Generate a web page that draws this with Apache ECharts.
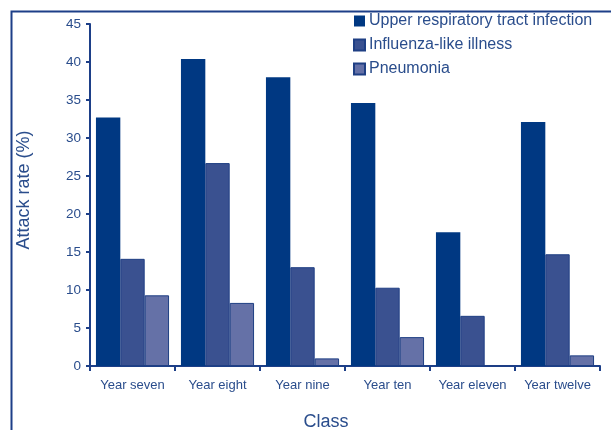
<!DOCTYPE html>
<html><head><meta charset="utf-8">
<script src="https://cdn.jsdelivr.net/npm/echarts@6/dist/echarts.min.js"></script>
<style>html,body{margin:0;padding:0;background:#fff}#c{width:611px;height:430px}</style>
</head><body><div id="c"></div>
<script>
const categories = ['Year seven','Year eight','Year nine','Year ten','Year eleven','Year twelve'];
const seriesNames = ['Upper respiratory tract infection','Influenza-like illness','Pneumonia'];
const urti = [32.7, 40.4, 38.0, 34.6, 17.6, 32.1];
const ili = [14.1, 26.7, 13.0, 10.3, 6.6, 14.7];
const pneumonia = [9.3, 8.3, 1.0, 3.8, 0, 1.4];
const yTicks = {min: 0, max: 45, interval: 5};

const colors = ['#003882', '#3a5190', '#6571a7'];
const textColor = '#2a4d8c';
const axisColor = '#1d3f88';
const font = 'Liberation Sans, Arial, sans-serif';

const chart = echarts.init(document.getElementById('c'), null, {renderer: 'canvas'});
const mk = (name, data, i) => ({
  name, type: 'bar', data,
  barGap: '0%', barCategoryGap: '14%',
  itemStyle: {color: colors[i], borderColor: i === 0 ? colors[0] : '#1f3f84', borderWidth: i === 0 ? 0 : 1},
  emphasis: {disabled: true}
});
chart.setOption({
  animation: false,
  textStyle: {fontFamily: font},
  grid: {left: 90, right: 11, top: 24, bottom: 64, containLabel: false, outerBoundsMode: 'none'},
  legend: {
    orient: 'vertical', left: 353, top: 13, padding: 0, itemWidth: 11, itemHeight: 11, itemGap: 8,
    icon: 'rect',
    textStyle: {color: textColor, fontSize: 16, fontFamily: font, padding: [0, 0, 0, -1]},
    data: seriesNames
  },
  xAxis: {
    type: 'category', data: categories,
    name: 'Class', nameLocation: 'middle', nameGap: 47,
    nameTextStyle: {color: textColor, fontSize: 18, fontFamily: font, padding: [0, 38, 0, 0]},
    axisLine: {lineStyle: {color: axisColor, width: 2}},
    axisTick: {show: true, interval: 0, length: 5, lineStyle: {color: axisColor, width: 2}, alignWithLabel: false},
    axisLabel: {interval: 0, color: textColor, fontSize: 13, fontFamily: font, margin: 13},
    splitLine: {show: false}
  },
  yAxis: {
    type: 'value', min: yTicks.min, max: yTicks.max, interval: yTicks.interval,
    name: 'Attack rate (%)', nameLocation: 'middle', nameGap: 57,
    nameTextStyle: {color: textColor, fontSize: 18, fontFamily: font, padding: [0, 0, 0, 10]},
    axisLine: {show: true, lineStyle: {color: axisColor, width: 2}},
    axisTick: {show: true, length: 4, inside: false, lineStyle: {color: axisColor, width: 2}},
    axisLabel: {color: textColor, fontSize: 13.5, fontFamily: font, margin: 9},
    splitLine: {show: false}
  },
  graphic: [{
    type: 'rect', left: 9, top: 9, z: -1,
    shape: {width: 700, height: 500},
    style: {fill: 'none', stroke: '#1d3f88', lineWidth: 2}
  }],
  series: [mk(seriesNames[0], urti, 0), mk(seriesNames[1], ili, 1), mk(seriesNames[2], pneumonia, 2)]
});
</script></body></html>
